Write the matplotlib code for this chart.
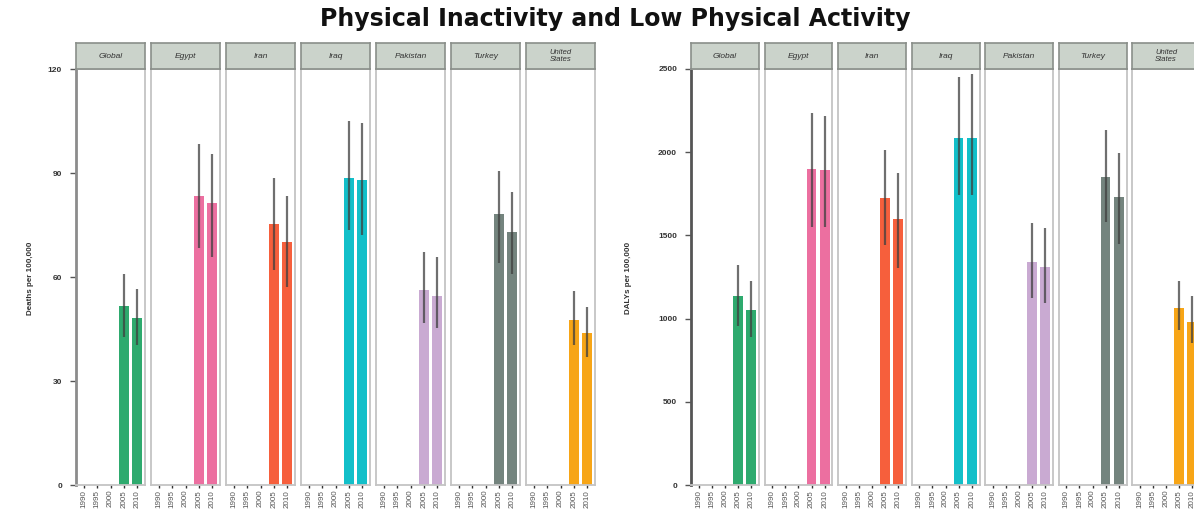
import matplotlib.pyplot as plt
import numpy as np

W, H = 1194, 514

countries = ["Global", "Egypt", "Iran", "Iraq", "Pakistan", "Turkey", "United\nStates"]
colors = ["#2eaa6e", "#ec6fa0", "#f65f3c", "#12bfc9", "#c9aad2", "#74847e", "#f7a516"]
years = ["1990", "1995", "2000", "2005", "2010"]
bar_years = [3, 4]  # only 2005 and 2010 have estimates

# deaths per 100,000: columns are 2005, 2010
deaths = [[51.6, 48.2], [83.4, 81.3], [75.3, 70.1], [88.6, 88.0],
          [56.2, 54.5], [78.2, 73.0], [47.6, 43.9]]
deaths_lo = [[42.7, 40.4], [68.4, 65.8], [62.0, 57.0], [73.6, 72.1],
             [46.7, 45.3], [64.0, 61.0], [40.4, 36.9]]
deaths_hi = [[60.9, 56.5], [98.4, 95.5], [88.6, 83.4], [105.0, 104.4],
             [67.2, 65.8], [90.6, 84.5], [56.0, 51.4]]

# DALYs per 100,000
dalys = [[1136, 1052], [1899, 1895], [1725, 1599], [2085, 2085],
         [1340, 1310], [1851, 1731], [1064, 980]]
dalys_lo = [[955, 890], [1551, 1551], [1442, 1304], [1743, 1743],
            [1124, 1094], [1580, 1450], [932, 853]]
dalys_hi = [[1322, 1226], [2236, 2218], [2013, 1875], [2452, 2470],
            [1575, 1545], [2134, 1995], [1226, 1136]]

plt.rcParams['font.family'] = ['Liberation Sans', 'DejaVu Sans']

fig = plt.figure(figsize=(W / 100, H / 100), dpi=100)


def px(x0, y0, w, h):
    return [x0 / W, 1 - (y0 + h) / H, w / W, h / H]


def draw_panel(x0, step, width, mean, lo, hi, ymax, yticks, ylabel, ylabel_x, spine_col):
    top, plot_h, strip_h = 69, 416, 26
    for i, name in enumerate(countries):
        left = x0 + i * step
        ax = fig.add_axes(px(left, top, width, plot_h))
        pos = np.array(bar_years)
        ax.bar(pos, mean[i], width=0.75, color=colors[i], zorder=2)
        for j, p in enumerate(pos):
            ax.plot([p, p], [lo[i][j], hi[i][j]], color="#3f3f3f", lw=1.6,
                    alpha=0.75, zorder=3, solid_capstyle="butt")
        ax.set_xlim(-0.6, 4.6)
        ax.set_ylim(0, ymax)
        ax.set_xticks(range(len(years)))
        ax.set_xticklabels(years, rotation=90, fontsize=5.8, color="#555555")
        ax.tick_params(axis="x", length=2.5, width=1, color="#333333", pad=1)
        for s in ax.spines.values():
            s.set_color("#c4c4c4")
            s.set_linewidth(1.3)
        if i == 0:
            ax.set_yticks(yticks)
            ax.set_yticklabels([str(t) for t in yticks], fontsize=6,
                               fontweight="bold", color="#333333")
            ax.tick_params(axis="y", length=4, width=1, color="#555555", pad=6)
            ax.spines["left"].set_color(spine_col)
            ax.spines["left"].set_linewidth(2)
        else:
            ax.set_yticks([])

        sx = fig.add_axes(px(left, top - strip_h, width, strip_h))
        sx.set_facecolor("#cbd3cb")
        sx.set_xticks([])
        sx.set_yticks([])
        for s in sx.spines.values():
            s.set_color("#8a8f8a")
            s.set_linewidth(1.2)
        fs = 6 if "\n" not in name else 5.5
        sx.text(0.5, 0.5, name, ha="center", va="center", fontsize=fs,
                style="italic", color="#333333", linespacing=0.9,
                transform=sx.transAxes)

    fig.text(ylabel_x / W, 1 - 278 / H, ylabel, rotation=90, ha="center",
             va="center", fontsize=5.8, fontweight="bold", color="#333333")


draw_panel(76, 75, 69, deaths, deaths_lo, deaths_hi, 120,
           [0, 30, 60, 90, 120], "Deaths per 100,000", 30, "#8c8c8c")
draw_panel(691, 73.5, 68, dalys, dalys_lo, dalys_hi, 2500,
           [0, 500, 1000, 1500, 2000, 2500], "DALYs per 100,000", 628, "#555555")

fig.text(615 / W, 1 - 19 / H, "Physical Inactivity and Low Physical Activity",
         ha="center", va="center", fontsize=17, fontweight="bold",
         family="DejaVu Sans", color="#111111")

fig.savefig("out.png", dpi=100)
